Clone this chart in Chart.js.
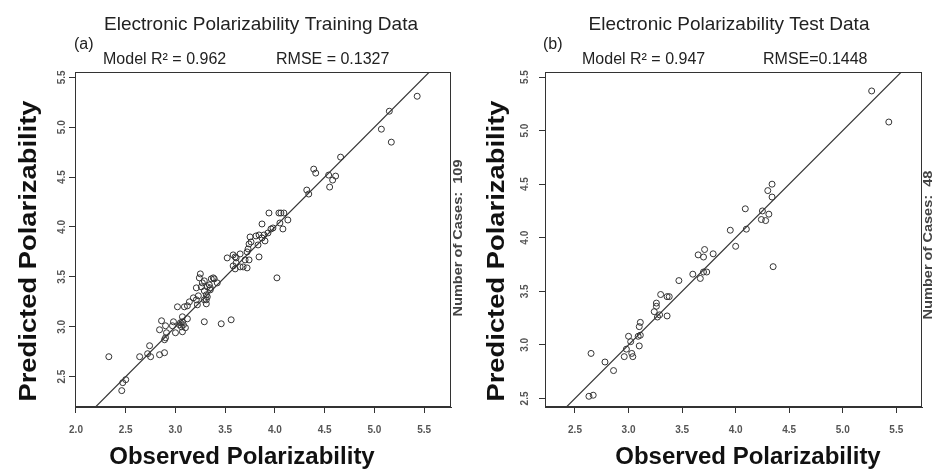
<!DOCTYPE html>
<html>
<head>
<meta charset="utf-8">
<script src="https://cdn.jsdelivr.net/npm/chart.js@4.4.0/dist/chart.umd.min.js"></script>
<style>
  html, body { margin: 0; padding: 0; background: #fff; }
  #wrap { position: relative; width: 939px; height: 470px; }
  canvas { position: absolute; top: 0; }
</style>
</head>
<body>
<div id="wrap">
  <canvas id="panelA" width="470" height="470" style="left:0"></canvas>
  <canvas id="panelB" width="469" height="470" style="left:470px"></canvas>
</div>
<script>
// training set (109 compounds)
const trainObserved = [
  5.43, 5.15, 5.07, 5.17, 4.66, 4.39, 4.41, 4.54, 4.61, 4.58, 4.55, 4.32, 4.34,
  4.04, 4.06, 4.09, 3.94, 3.87, 4.13, 4.05, 4.08, 3.98, 3.96, 3.93, 3.89, 3.84,
  3.87, 3.90, 3.75, 3.83, 3.74, 3.73, 3.72, 3.84, 3.65, 3.58, 3.60, 3.52, 3.70,
  3.74, 3.61, 3.65, 3.68, 3.72, 3.58, 3.60, 4.02, 3.25, 3.29, 3.38, 3.39, 3.36,
  3.21, 3.26, 3.32, 3.35, 3.29, 3.31, 3.35, 3.29, 3.32, 3.23, 3.21, 3.14, 3.12,
  3.09, 3.02, 3.22, 3.31, 3.31, 2.86, 2.90, 2.98, 3.05, 3.07, 3.08, 3.06, 3.04,
  3.12, 3.10, 2.97, 2.84, 2.91, 3.00, 3.07, 2.90, 2.89, 3.29, 3.46, 3.56, 2.74,
  2.72, 2.64, 2.75, 2.84, 2.89, 2.33, 2.50, 2.47, 2.46, 3.27, 3.34, 3.24, 3.61,
  3.76, 3.81, 3.07, 3.18, 3.42
];
const trainPredicted = [
  5.31, 5.16, 4.98, 4.85, 4.70, 4.58, 4.54, 4.52, 4.51, 4.47, 4.40, 4.37, 4.33,
  4.14, 4.14, 4.14, 4.14, 4.03, 4.07, 4.04, 3.98, 3.99, 3.98, 3.94, 3.92, 3.92,
  3.89, 3.86, 3.90, 3.82, 3.83, 3.78, 3.75, 3.70, 3.73, 3.72, 3.70, 3.69, 3.67,
  3.67, 3.64, 3.60, 3.60, 3.59, 3.61, 3.58, 3.49, 3.53, 3.46, 3.49, 3.48, 3.48,
  3.39, 3.40, 3.40, 3.39, 3.36, 3.32, 3.37, 3.27, 3.30, 3.31, 3.27, 3.25, 3.21,
  3.20, 3.20, 3.22, 3.23, 3.27, 3.06, 3.01, 3.05, 3.04, 3.05, 3.02, 3.00, 3.02,
  3.08, 2.99, 3.01, 2.97, 2.94, 2.94, 2.95, 2.89, 2.87, 3.05, 3.03, 3.07, 2.81,
  2.73, 2.70, 2.70, 2.72, 2.74, 2.70, 2.47, 2.44, 2.36, 3.44, 3.42, 3.49, 3.69,
  3.85, 3.91, 3.10, 3.29, 3.44
];

// test set (48 compounds)
const testObserved = [
  5.27, 5.43, 4.34, 4.30, 4.34, 4.09, 4.25, 4.31, 4.24, 4.28, 3.95, 4.10, 4.00,
  3.65, 3.70, 3.71, 3.79, 4.35, 3.70, 3.60, 3.67, 3.73, 3.47, 3.30, 3.36, 3.38,
  3.26, 3.26, 3.24, 3.27, 3.36, 3.29, 3.11, 3.10, 3.09, 3.11, 3.00, 3.02, 3.10,
  2.98, 3.03, 2.96, 3.04, 2.65, 2.78, 2.86, 2.63, 2.67
];
const testPredicted = [
  5.37, 5.08, 4.50, 4.44, 4.38, 4.27, 4.25, 4.22, 4.17, 4.16, 4.07, 4.08, 3.92,
  3.84, 3.82, 3.89, 3.85, 3.73, 3.68, 3.66, 3.62, 3.68, 3.60, 3.47, 3.45, 3.45,
  3.39, 3.36, 3.31, 3.26, 3.27, 3.28, 3.21, 3.17, 3.08, 3.09, 3.08, 3.03, 2.99,
  2.96, 2.92, 2.89, 2.89, 2.92, 2.84, 2.76, 2.52, 2.53
];

const trainXTicks = [2.0, 2.5, 3.0, 3.5, 4.0, 4.5, 5.0, 5.5];
const trainYTicks = [2.5, 3.0, 3.5, 4.0, 4.5, 5.0, 5.5];
const testXTicks = [2.5, 3.0, 3.5, 4.0, 4.5, 5.0, 5.5];
const testYTicks = [2.5, 3.0, 3.5, 4.0, 4.5, 5.0, 5.5];
const identityLine = [1.5, 6.0];

const FONT = '"Liberation Sans", Arial, Helvetica, sans-serif';

// rotated text, read bottom to top; stretch lengthens it along the axis
function upText(ctx, txt, x, y, stretch) {
  ctx.save();
  ctx.translate(x, y);
  ctx.rotate(-Math.PI / 2);
  ctx.scale(stretch || 1, 1);
  ctx.fillText(txt, 0, 0);
  ctx.restore();
}

const decor = {
  id: 'decor',
  afterDraw(chart, args, o) {
    const { ctx, chartArea: a, scales: { x, y } } = chart;
    ctx.save();
    ctx.strokeStyle = '#333';
    ctx.lineWidth = 1;
    ctx.strokeRect(Math.round(a.left) + 0.5, Math.round(a.top) + 0.5,
      Math.round(a.width) - 1, Math.round(a.height) - 1);

    ctx.fillStyle = '#555';
    ctx.font = 'bold 10px ' + FONT;
    ctx.textAlign = 'center';
    ctx.textBaseline = 'middle';
    o.xTicks.forEach(v => ctx.fillText(v.toFixed(1), x.getPixelForValue(v), 430));
    o.yTicks.forEach(v => upText(ctx, v.toFixed(1), o.yTickX, y.getPixelForValue(v)));

    ctx.fillStyle = '#111';
    ctx.font = 'bold 24px ' + FONT;
    ctx.fillText('Observed Polarizability', o.xTitleX, 457);
    upText(ctx, 'Predicted Polarizability', o.yTitleX, 251, 1.14);

    ctx.fillStyle = '#222';
    ctx.font = '19px ' + FONT;
    ctx.fillText(o.title, o.titleX, 25);

    ctx.textAlign = 'left';
    ctx.font = '16px ' + FONT;
    ctx.fillText(o.tag, o.tagX, 45);
    ctx.fillText(o.r2, o.r2X, 60);
    ctx.fillText(o.rmse, o.rmseX, 60);

    ctx.fillStyle = '#444';
    ctx.textAlign = 'center';
    ctx.font = 'bold 13px ' + FONT;
    upText(ctx, o.cases, 458, o.casesY, 1.12);
    ctx.restore();
  }
};

function makePanel(id, obs, pred, p) {
  const axis = (min, max, ticks, size, horiz) => ({
    type: 'linear',
    min: min,
    max: max,
    afterBuildTicks: s => { s.ticks = ticks.map(v => ({ value: v })); },
    afterFit: s => { if (horiz) s.height = size; else s.width = size; },
    ticks: { display: false },
    grid: { drawOnChartArea: false, drawTicks: true, tickLength: 6, color: '#333' },
    border: { display: true, color: '#333' }
  });
  return new Chart(document.getElementById(id), {
    type: 'scatter',
    data: {
      datasets: [
        {
          data: obs.map((v, i) => ({ x: v, y: pred[i] })),
          pointRadius: 3,
          pointBorderWidth: 1,
          pointBackgroundColor: 'rgba(0,0,0,0)',
          pointBorderColor: '#333'
        },
        {
          type: 'line',
          data: identityLine.map(v => ({ x: v, y: v })),
          borderColor: '#333',
          borderWidth: 1.2,
          pointRadius: 0
        }
      ]
    },
    options: {
      responsive: false,
      animation: false,
      devicePixelRatio: 1,
      layout: { padding: { left: 0, top: 72, right: p.padRight, bottom: 0 } },
      plugins: {
        legend: { display: false },
        tooltip: { enabled: false },
        decor: p
      },
      scales: {
        x: axis(p.xMin, p.xMax, p.xTicks, 63, true),
        y: axis(p.yMin, p.yMax, p.yTicks, 75, false)
      }
    },
    plugins: [decor]
  });
}

makePanel('panelA', trainObserved, trainPredicted, {
  xMin: 1.99, xMax: 5.77, yMin: 2.196, yMax: 5.553, padRight: 19,
  xTicks: trainXTicks, yTicks: trainYTicks, yTickX: 62,
  title: 'Electronic Polarizability Training Data', titleX: 261,
  tag: '(a)', tagX: 74, r2: 'Model R² = 0.962', r2X: 103,
  rmse: 'RMSE = 0.1327', rmseX: 276,
  xTitleX: 242, yTitleX: 29, cases: 'Number of Cases:  109', casesY: 238
});

makePanel('panelB', testObserved, testPredicted, {
  xMin: 2.22, xMax: 5.74, yMin: 2.42, yMax: 5.547, padRight: 17,
  xTicks: testXTicks, yTicks: testYTicks, yTickX: 55,
  title: 'Electronic Polarizability Test Data', titleX: 259,
  tag: '(b)', tagX: 73, r2: 'Model R² = 0.947', r2X: 112,
  rmse: 'RMSE=0.1448', rmseX: 293,
  xTitleX: 278, yTitleX: 27, cases: 'Number of Cases:  48', casesY: 245
});
</script>
</body>
</html>
